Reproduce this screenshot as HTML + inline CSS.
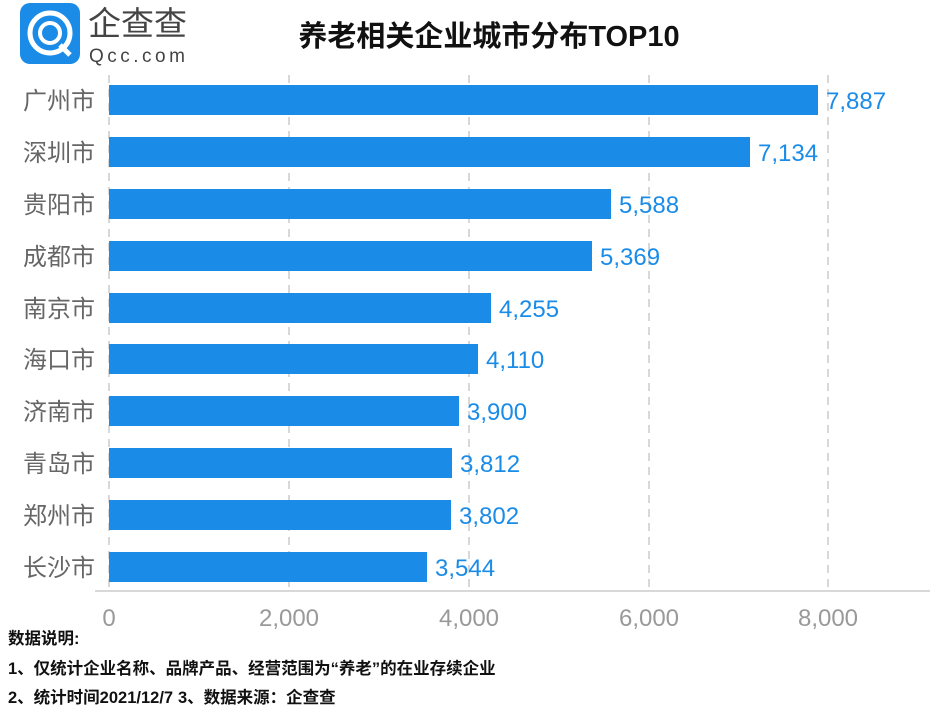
<!DOCTYPE html>
<html><head><meta charset="utf-8"><style>
body{margin:0;background:#fff;}
svg text{font-family:"Liberation Sans","Noto Sans CJK SC",sans-serif;}
</style></head><body>
<svg width="930" height="709" viewBox="0 0 930 709" xmlns="http://www.w3.org/2000/svg">
<rect width="930" height="709" fill="#fff"/>
<rect x="20" y="3" width="60" height="61" rx="10" fill="#1a8ce8"/>
<circle cx="50" cy="33" r="20" fill="none" stroke="#fff" stroke-width="5"/>
<circle cx="50" cy="33" r="10" fill="none" stroke="#fff" stroke-width="4"/>
<line x1="60" y1="45" x2="70" y2="55" stroke="#fff" stroke-width="5"/>
<text x="88" y="35" font-size="33" fill="#444">企查查</text>
<text x="89" y="62" font-size="19" fill="#444" letter-spacing="3.5">Qcc.com</text>
<text x="489" y="46" font-size="29" font-weight="bold" fill="#111" text-anchor="middle">养老相关企业城市分布TOP10</text>
<g stroke="#ccc" stroke-width="1.5" stroke-dasharray="8,6">
<line x1="109" y1="75" x2="109" y2="591"/>
<line x1="289" y1="75" x2="289" y2="591"/>
<line x1="469" y1="75" x2="469" y2="591"/>
<line x1="649" y1="75" x2="649" y2="591"/>
<line x1="828" y1="75" x2="828" y2="591"/>
</g>
<line x1="95" y1="591" x2="930" y2="591" stroke="#ccc" stroke-width="1.5"/>
<g font-size="24" fill="#999" text-anchor="middle">
<text x="109" y="626">0</text><text x="289" y="626">2,000</text><text x="469" y="626">4,000</text><text x="649" y="626">6,000</text><text x="828" y="626">8,000</text>
</g>
<g font-size="24" fill="#666" text-anchor="end">
<text x="95" y="109">广州市</text><text x="95" y="161">深圳市</text><text x="95" y="213">贵阳市</text><text x="95" y="265">成都市</text><text x="95" y="317">南京市</text><text x="95" y="368">海口市</text><text x="95" y="420">济南市</text><text x="95" y="472">青岛市</text><text x="95" y="524">郑州市</text><text x="95" y="576">长沙市</text>
</g>
<g fill="#1a8ce8">
<rect x="109" y="85" width="709" height="30"/>
<rect x="109" y="137" width="641" height="30"/>
<rect x="109" y="189" width="502" height="30"/>
<rect x="109" y="241" width="483" height="30"/>
<rect x="109" y="293" width="382" height="30"/>
<rect x="109" y="344" width="369" height="30"/>
<rect x="109" y="396" width="350" height="30"/>
<rect x="109" y="448" width="343" height="30"/>
<rect x="109" y="500" width="342" height="30"/>
<rect x="109" y="552" width="318" height="30"/>
</g>
<g font-size="24" fill="#1a8ce8">
<text x="826" y="109">7,887</text><text x="758" y="161">7,134</text><text x="619" y="213">5,588</text><text x="600" y="265">5,369</text><text x="499" y="317">4,255</text><text x="486" y="368">4,110</text><text x="467" y="420">3,900</text><text x="460" y="472">3,812</text><text x="459" y="524">3,802</text><text x="435" y="576">3,544</text>
</g>
<g font-size="16.5" fill="#111" font-weight="bold">
<text x="8" y="644">数据说明:</text>
<text x="8" y="674">1、仅统计企业名称、品牌产品、经营范围为“养老”的在业存续企业</text>
<text x="8" y="703">2、统计时间2021/12/7</text>
<text x="178" y="703">3、数据来源：企查查</text>
</g>
</svg>
</body></html>
